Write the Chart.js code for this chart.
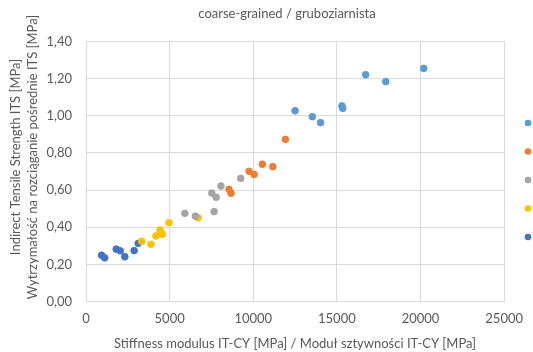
<!DOCTYPE html>
<html>
<head>
<meta charset="utf-8">
<script src="https://cdn.jsdelivr.net/npm/chart.js@4/dist/chart.umd.min.js"></script>
<style>
  html, body { margin: 0; padding: 0; background: #ffffff; }
  #wrap { width: 533px; height: 352px; position: relative; }
</style>
</head>
<body>
<div id="wrap"><canvas id="c" width="533" height="352"></canvas></div>
<script>
// Texts
const chartTitle = 'coarse-grained / gruboziarnista';
const xTitle = 'Stiffness modulus IT-CY [MPa] / Moduł sztywności IT-CY [MPa]';
const yTitle = ['Indirect Tensile Strength ITS [MPa]', 'Wytrzymałość na rozciąganie pośrednie ITS [MPa]'];

// Axis ticks
const xTicks = [0, 5000, 10000, 15000, 20000, 25000];
const yTicks = [0, 0.2, 0.4, 0.6, 0.8, 1.0, 1.2, 1.4];

// Series (stiffness modulus [MPa], ITS [MPa])
const seriesNames = ['Series 1', 'Series 2', 'Series 3', 'Series 4', 'Series 5'];
const seriesColors = ['#5B9BD5', '#ED7D31', '#A5A5A5', '#FFC000', '#4472C4'];

const s1Stiffness = [12500, 13530, 14020, 15300, 15350, 16720, 17920, 20190];
const s1Its       = [1.027, 0.995, 0.963, 1.053, 1.040, 1.221, 1.184, 1.255];

const s2Stiffness = [8550, 8670, 9750, 10050, 10540, 11170, 11920];
const s2Its       = [0.604, 0.583, 0.701, 0.684, 0.739, 0.726, 0.873];

const s3Stiffness = [5910, 6540, 7660, 7520, 7780, 8070, 9250];
const s3Its       = [0.475, 0.460, 0.484, 0.584, 0.561, 0.622, 0.663];

const s4Stiffness = [3330, 3880, 4180, 4430, 4570, 4960, 6700];
const s4Its       = [0.324, 0.308, 0.353, 0.385, 0.362, 0.424, 0.451];

const s5Stiffness = [930, 1120, 1810, 2050, 2320, 2880, 3120];
const s5Its       = [0.249, 0.235, 0.282, 0.273, 0.241, 0.274, 0.313];

const seriesX = [s1Stiffness, s2Stiffness, s3Stiffness, s4Stiffness, s5Stiffness];
const seriesY = [s1Its, s2Its, s3Its, s4Its, s5Its];

const FONT = "Lato, 'Open Sans', sans-serif";
const TEXT = '#595959';
const GRID = '#d9d9d9';

const datasets = seriesNames.map((name, i) => ({
  label: name,
  data: seriesX[i].map((x, k) => ({ x: x, y: seriesY[i][k] })),
  backgroundColor: seriesColors[i],
  borderColor: seriesColors[i],
  borderWidth: 0.8,
  pointRadius: 3.4,
  pointHoverRadius: 3.4
}));

// Chart title, two-line value-axis title and the legend markers
const decorations = {
  id: 'decorations',
  afterDraw(chart) {
    const ctx = chart.ctx;
    ctx.save();
    ctx.fillStyle = TEXT;
    ctx.font = '13px ' + FONT;
    ctx.textAlign = 'center';
    ctx.textBaseline = 'middle';
    ctx.fillText(chartTitle, 287, 14);

    ctx.save();
    ctx.translate(0, 157);
    ctx.rotate(-Math.PI / 2);
    yTitle.forEach((line, i) => ctx.fillText(line, 0, 16 + i * 17));
    ctx.restore();

    chart.data.datasets.forEach((ds, i) => {
      ctx.beginPath();
      ctx.fillStyle = ds.backgroundColor;
      ctx.arc(528, 123 + i * 28.5, 3.3, 0, Math.PI * 2);
      ctx.fill();
    });
    ctx.restore();
  }
};

new Chart(document.getElementById('c'), {
  type: 'scatter',
  data: { datasets: datasets },
  options: {
    responsive: false,
    animation: false,
    devicePixelRatio: 1,
    layout: { padding: { top: 41.5, right: 24, bottom: 0, left: 0 } },
    plugins: {
      legend: { display: false },
      tooltip: { enabled: false },
      title: { display: false }
    },
    scales: {
      x: {
        type: 'linear',
        min: 0,
        max: 25000,
        afterBuildTicks: (scale) => { scale.ticks = xTicks.map(v => ({ value: v })); },
        afterFit: (scale) => { scale.height = 50.5; },
        grid: { color: GRID, lineWidth: 1, drawTicks: false },
        border: { display: false },
        ticks: {
          color: TEXT,
          font: { family: FONT, size: 13 },
          padding: 10,
          maxRotation: 0,
          callback: (v) => String(v)
        },
        title: {
          display: true,
          text: xTitle,
          color: TEXT,
          font: { family: FONT, size: 13, lineHeight: 1.3 },
          padding: { top: 0, bottom: 0 }
        }
      },
      y: {
        type: 'linear',
        min: 0,
        max: 1.4,
        afterBuildTicks: (scale) => { scale.ticks = yTicks.map(v => ({ value: v })); },
        afterFit: (scale) => { scale.width = 86; },
        grid: { color: GRID, lineWidth: 1, drawTicks: false },
        border: { display: false },
        ticks: {
          color: TEXT,
          font: { family: FONT, size: 13 },
          padding: 14,
          callback: (v) => Number(v).toFixed(2).replace('.', ',')
        }
      }
    }
  },
  plugins: [decorations]
});
</script>
</body>
</html>
